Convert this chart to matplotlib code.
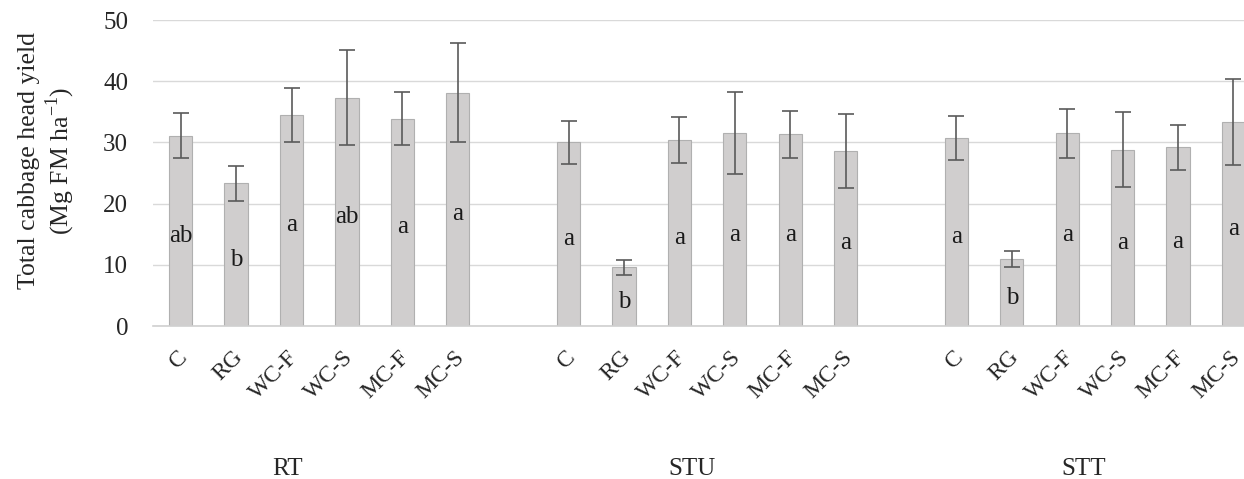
import matplotlib
matplotlib.use("Agg")
import matplotlib.pyplot as plt
import matplotlib.transforms as mtransforms
import numpy as np

plt.rcParams['font.family'] = ['Liberation Serif', 'DejaVu Serif']
plt.rcParams['mathtext.fontset'] = 'custom'
plt.rcParams['mathtext.rm'] = 'Liberation Serif'

treatments = ['C', 'RG', 'WC-F', 'WC-S', 'MC-F', 'MC-S']
groups = ['RT', 'STU', 'STT']

# mean yield and error per group
rt_mean = [31.1, 23.3, 34.5, 37.3, 33.9, 38.1]
rt_err = [3.7, 2.8, 4.4, 7.8, 4.3, 8.1]
stu_mean = [30.0, 9.6, 30.4, 31.5, 31.3, 28.6]
stu_err = [3.5, 1.2, 3.8, 6.7, 3.9, 6.1]
stt_mean = [30.7, 10.9, 31.5, 28.8, 29.2, 33.3]
stt_err = [3.6, 1.3, 4.0, 6.1, 3.7, 7.0]

rt_letters = ['ab', 'b', 'a', 'ab', 'a', 'a']
stu_letters = ['a', 'b', 'a', 'a', 'a', 'a']
stt_letters = ['a', 'b', 'a', 'a', 'a', 'a']

means = [rt_mean, stu_mean, stt_mean]
errs = [rt_err, stu_err, stt_err]
letters = [rt_letters, stu_letters, stt_letters]

fig = plt.figure(figsize=(12.44, 4.79), dpi=100)
ax = fig.add_axes([0.123, 0.3194, 0.877, 0.6388])

ticks = []
ticklabels = []
for g in range(3):
    x = np.arange(6) + g * 7
    ax.bar(x, means[g], width=0.42, color='#d0cece', edgecolor='#b0b0b0',
           linewidth=0.8, zorder=2)
    ax.errorbar(x, means[g], yerr=errs[g], fmt='none', ecolor='#5a5a5a',
                elinewidth=1.2, capsize=6, capthick=1.2, zorder=3)
    for xi, m, lab in zip(x, means[g], letters[g]):
        ax.text(xi, m / 2 - 0.8, lab, ha='center', va='center', fontsize=18,
                color='#1a1a1a', zorder=4)
    ticks += list(x)
    ticklabels += treatments

ax.set_xlim(-0.5, 19.19)
ax.set_ylim(0, 50)
ax.set_yticks(np.arange(0, 51, 10))
ax.yaxis.grid(True, color='#d9d9d9', linewidth=1.0, zorder=0)
ax.set_axisbelow(True)
for s in ['top', 'right', 'left']:
    ax.spines[s].set_visible(False)
ax.spines['bottom'].set_color('#d0d0d0')
ax.spines['bottom'].set_linewidth(1.2)
ax.tick_params(axis='both', length=0, labelsize=18, colors='#262626')
ax.tick_params(axis='y', pad=18)

ax.set_xticks(ticks)
ax.set_xticklabels(ticklabels, rotation=45, ha='right', va='top',
                   rotation_mode='anchor', fontsize=17)
ax.tick_params(axis='x', pad=15)
shift = mtransforms.ScaledTranslation(-4 / 100, 0, fig.dpi_scale_trans)
for t in ax.get_xticklabels():
    t.set_transform(t.get_transform() + shift)

# group names under the category labels
group_pos = [1.93, 9.22, 16.3]
for gp, gname in zip(group_pos, groups):
    ax.text(gp, -23.4, gname, ha='center', va='center', fontsize=18,
            color='#262626')

fig.text(0.038, 0.664, 'Total cabbage head yield\n(Mg FM ha$^{-1}$)',
         rotation=90, ha='center', va='center', fontsize=18.5,
         multialignment='center', color='#262626', linespacing=1.15)

fig.savefig('out.png', dpi=100)
